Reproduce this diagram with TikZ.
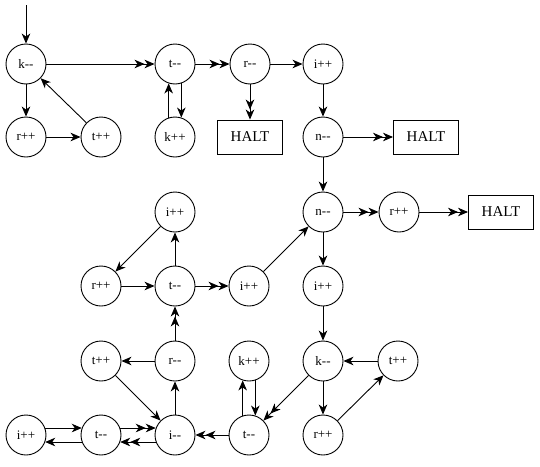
\documentclass[tikz,border=0pt]{standalone}
\usepackage{fontspec}
\setmainfont{Liberation Serif}
\usetikzlibrary{arrows.meta}
\begin{document}
\begin{tikzpicture}[x=1pt,y=-1pt,
  st/.style={circle,draw,line width=0.9pt,minimum size=40pt,inner sep=0pt,font=\fontsize{13}{15}\selectfont},
  halt/.style={rectangle,draw,line width=0.9pt,minimum width=65pt,minimum height=34pt,inner sep=0pt,font=\fontsize{15}{17}\selectfont},
  tip/.tip={Stealth[length=10pt,width=8.5pt,inset=3pt]},
  a1/.style={-{tip},line width=0.9pt},
  a2/.style={-{tip[]tip[]},line width=0.9pt}]
\useasboundingbox (0,0) rectangle (540,466);
\coordinate (start) at (26,5);
\node[st] (k1) at (26,64) {k-{}-};
\node[st] (t1) at (175,64) {t-{}-};
\node[st] (r1) at (250,64) {r-{}-};
\node[st] (i1) at (323,64) {i++};
\node[st] (r2) at (26,137) {r++};
\node[st] (t2) at (101,137) {t++};
\node[st] (k2) at (175,137) {k++};
\node[halt] (h1) at (250,137) {HALT};
\node[st] (n1) at (323,137) {n-{}-};
\node[halt] (h2) at (426,137) {HALT};
\node[st] (i3) at (175,212) {i++};
\node[st] (n3) at (323,212) {n-{}-};
\node[st] (r3) at (399,212) {r++};
\node[halt] (h3) at (501,212) {HALT};
\node[st] (r4) at (101,286) {r++};
\node[st] (t4) at (175,286) {t-{}-};
\node[st] (i4) at (249,286) {i++};
\node[st] (j4) at (323,286) {i++};
\node[st] (t5) at (101,361) {t++};
\node[st] (r5) at (175,361) {r-{}-};
\node[st] (k5) at (249,361) {k++};
\node[st] (k6) at (323,361) {k-{}-};
\node[st] (u5) at (398,361) {t++};
\node[st] (i6) at (26,435) {i++};
\node[st] (t6) at (101,435) {t-{}-};
\node[st] (ii6) at (175,435) {i-{}-};
\node[st] (tt6) at (249,435) {t-{}-};
\node[st] (r6) at (323,435) {r++};
\draw[a1] (start) -- (k1);
\draw[a2] (k1) -- (t1);
\draw[a1] (k1) -- (r2);
\draw[a1] (r2) -- (t2);
\draw[a1] (t2) -- (k1);
\draw[a2] (t1) -- (r1);
\draw[a1] (t1.-72) -- (k2.72);
\draw[a1] (k2.108) -- (t1.-108);
\draw[a2] (r1) -- (h1);
\draw[a1] (r1) -- (i1);
\draw[a1] (i1) -- (n1);
\draw[a2] (n1) -- (h2);
\draw[a1] (n1) -- (n3);
\draw[a2] (n3) -- (r3);
\draw[a2] (r3) -- (h3);
\draw[a1] (n3) -- (j4);
\draw[a1] (i4) -- (n3);
\draw[a1] (i3) -- (r4);
\draw[a1] (r4) -- (t4);
\draw[a1] (t4) -- (i3);
\draw[a2] (t4) -- (i4);
\draw[a2] (r5) -- (t4);
\draw[a1] (r5) -- (t5);
\draw[a1] (t5) -- (ii6);
\draw[a1] (ii6) -- (r5);
\draw[a1] (j4) -- (k6);
\draw[a2] (k6) -- (tt6);
\draw[a1] (k6) -- (r6);
\draw[a1] (r6) -- (u5);
\draw[a1] (u5) -- (k6);
\draw[a1] (tt6.108) -- (k5.-108);
\draw[a1] (k5.-72) -- (tt6.72);
\draw[a2] (tt6) -- (ii6);
\draw[a1] (i6.20) -- (t6.160);
\draw[a1] (t6.-160) -- (i6.-20);
\draw[a2] (t6.20) -- (ii6.160);
\draw[a2] (ii6.-160) -- (t6.-20);
\end{tikzpicture}
\end{document}
